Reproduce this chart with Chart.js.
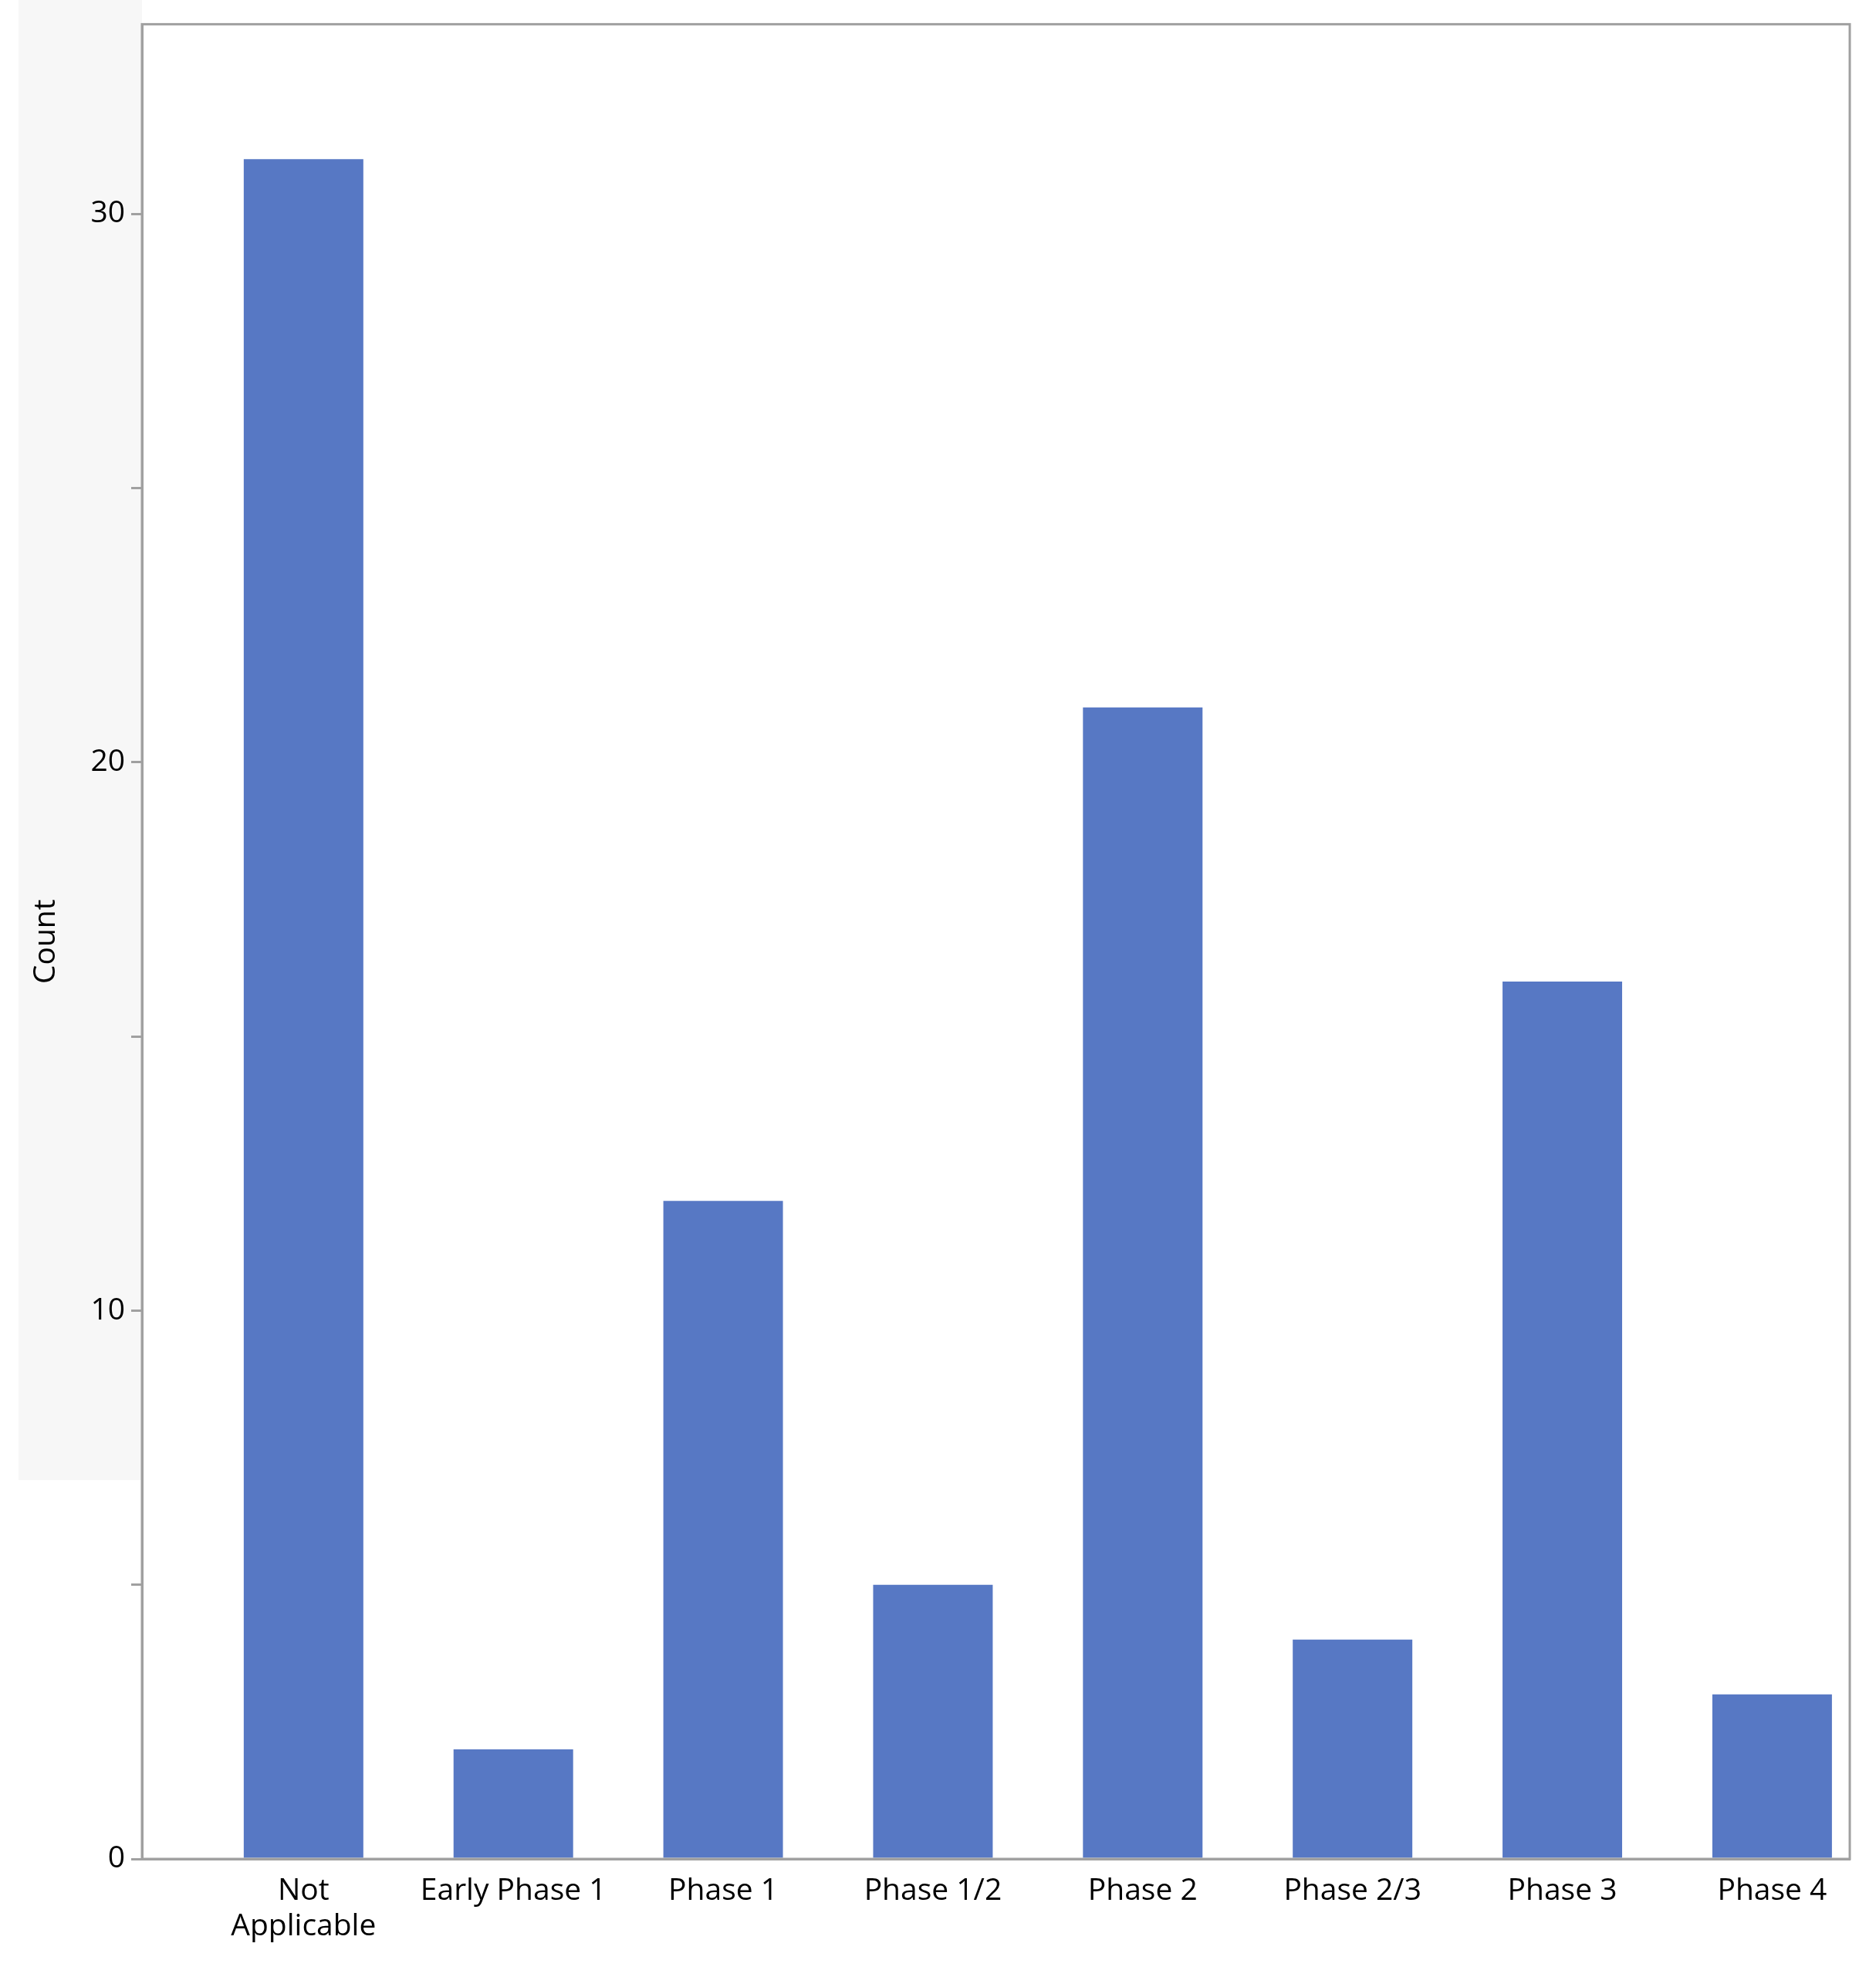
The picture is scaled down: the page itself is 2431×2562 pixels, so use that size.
<!DOCTYPE html>
<html>
<head>
<meta charset="utf-8">
<script src="https://cdn.jsdelivr.net/npm/chart.js@4"></script>
<style>body{margin:0;background:#fff}</style>
</head>
<body>
<canvas id="grafica" width="2431" height="2562"></canvas>
<script>
const fases = [["Not", "Applicable"], "Early Phase 1", "Phase 1", "Phase 1/2", "Phase 2", "Phase 2/3", "Phase 3", "Phase 4"];
const conteos = [31, 2, 12, 5, 21, 4, 16, 3];
const ticksY = [0, 10, 20, 30];

const fondoPanel = {
  id: 'fondoPanel',
  beforeDraw(chart) {
    const ctx = chart.ctx;
    ctx.save();
    ctx.fillStyle = '#f7f7f7';
    ctx.fillRect(24, 0, chart.chartArea.left - 24, 1918);
    ctx.restore();
  },
  afterDraw(chart) {
    const a = chart.chartArea, ctx = chart.ctx;
    ctx.save();
    ctx.strokeStyle = '#a0a0a0';
    ctx.lineWidth = 3;
    ctx.strokeRect(a.left, a.top, a.right - a.left, a.bottom - a.top);
    ctx.restore();
  }
};

Chart.defaults.font.family = "'Open Sans', 'Noto Sans', sans-serif";
Chart.defaults.font.size = 39;
Chart.defaults.color = '#000';

new Chart(document.getElementById('grafica'), {
  type: 'bar',
  data: {
    datasets: [{
      label: 'Count',
      data: conteos.map((v, i) => ({ x: i, y: v })),
      backgroundColor: '#5778c4',
      borderWidth: 0,
      barPercentage: 0.57,
      categoryPercentage: 1
    }]
  },
  plugins: [fondoPanel],
  options: {
    responsive: false,
    devicePixelRatio: 1,
    animation: false,
    layout: { padding: { top: 28, right: 34, left: 32 } },
    plugins: { legend: { display: false }, tooltip: { enabled: false } },
    scales: {
      x: {
        type: 'linear',
        offset: false,
        min: -0.77,
        max: 7.37,
        grid: { display: false },
        border: { color: '#a0a0a0', width: 3 },
        afterBuildTicks: s => { s.ticks = fases.map((f, i) => ({ value: i })); },
        ticks: { autoSkip: false, maxRotation: 0, padding: 10, callback: v => fases[v] },
        afterFit: s => { s.height = 153; }
      },
      y: {
        min: 0,
        max: 33.46,
        grid: { drawOnChartArea: false, tickLength: 14, color: '#a0a0a0', lineWidth: 3 },
        border: { color: '#a0a0a0', width: 3 },
        afterBuildTicks: s => { s.ticks = [0, 5, 10, 15, 20, 25, 30].map(v => ({ value: v })); },
        ticks: { padding: 8, callback: v => ticksY.includes(v) ? String(v) : '' },
        title: { display: true, text: 'Count', font: { size: 39 } },
        afterFit: s => { s.width = 152; }
      }
    }
  }
});
</script>
</body>
</html>
